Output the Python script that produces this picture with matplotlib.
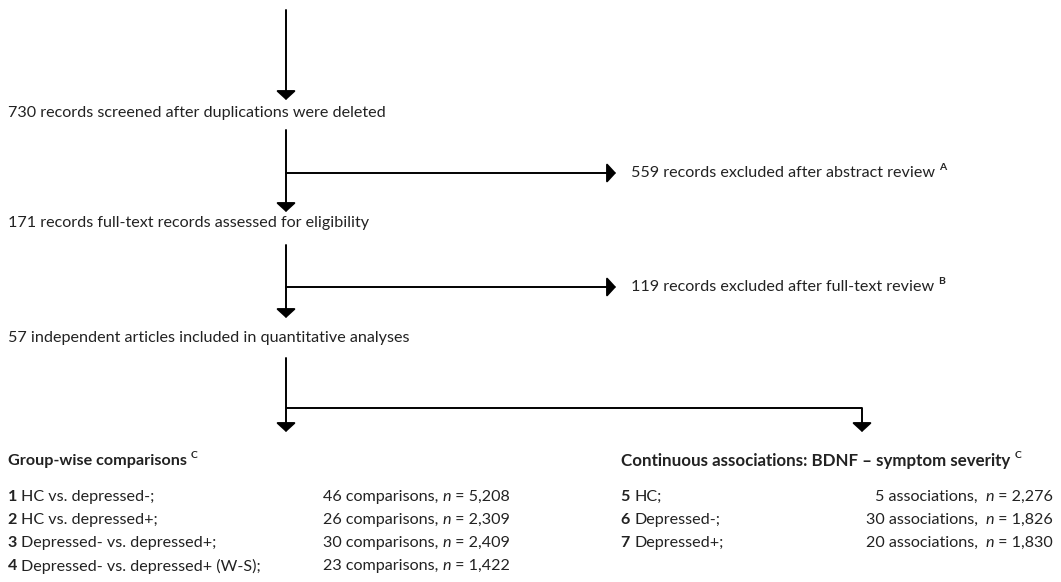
import matplotlib.pyplot as plt

plt.rcParams['font.family'] = ['Lato', 'DejaVu Sans']

# flow steps (text, superscript)
steps = [
    ("730 records screened after duplications were deleted", ""),
    ("171 records full-text records assessed for eligibility", ""),
    ("57 independent articles included in quantitative analyses", ""),
]
excluded = [
    ("559 records excluded after abstract review", "A"),
    ("119 records excluded after full-text review", "B"),
]

group_title = "Group-wise comparisons"
group_num = ["1", "2", "3", "4"]
group_lab = ["HC vs. depressed-;", "HC vs. depressed+;", "Depressed- vs. depressed+;",
             "Depressed- vs. depressed+ (W-S);"]
group_k = [46, 26, 30, 23]
group_n = ["5,208", "2,309", "2,409", "1,422"]

cont_title = "Continuous associations: BDNF \u2013 symptom severity"
cont_num = ["5", "6", "7"]
cont_lab = ["HC;", "Depressed-;", "Depressed+;"]
cont_k = [5, 30, 20]
cont_n = ["2,276", "1,826", "1,830"]

fig = plt.figure(figsize=(10.61, 5.82), dpi=100)
ax = fig.add_axes([0, 0, 1, 1])
ax.set_xlim(0, 1061)
ax.set_ylim(582, 0)
ax.axis('off')

col = '#222222'
fs = 11.6
sfs = 7.5
fig.canvas.draw()
rend = fig.canvas.get_renderer()


def runs(x, y, parts, ha='left'):
    # parts: list of (text, weight, style, size, dy)
    if ha == 'right':
        w = 0
        tmp = []
        for p in parts:
            t = ax.text(0, y, p[0], fontsize=p[3], fontweight=p[1], style=p[2])
            w += t.get_window_extent(rend).width
            tmp.append(t)
        for t in tmp:
            t.remove()
        x = x - w
    for txt, wt, st, sz, dy in parts:
        t = ax.text(x, y + dy, txt, fontsize=sz, fontweight=wt, style=st, color=col,
                    va='center', ha='left')
        x += t.get_window_extent(rend).width
    return x


def arrow(x0, y0, x1, y1):
    ax.annotate('', xy=(x1, y1), xytext=(x0, y0),
                arrowprops=dict(arrowstyle='-|>,head_length=0.55,head_width=0.6',
                                lw=1.4, color='black', shrinkA=0, shrinkB=0))


def line(xs, ys):
    ax.plot(xs, ys, color='black', lw=1.4, solid_capstyle='butt')


xm = 286
# top arrow
arrow(xm, 10, xm, 100)
step_y = [113, 223, 338]
for (s, sup), y in zip(steps, step_y):
    runs(8, y, [(s, 'normal', 'normal', fs, 0)])

# exclusion arrows
for (s, sup), ytop, yh, yarr in zip(excluded, [130, 245], [173, 287], [212, 318]):
    arrow(xm, ytop, xm, yarr)
    arrow(xm, yh, 616, yh)
    runs(631, yh, [(s + " ", 'normal', 'normal', fs, 0), (sup, 'bold', 'normal', sfs, -5)])

# split into two branches
arrow(xm, 358, xm, 432)
line([xm, 862], [408, 408])
arrow(862, 408, 862, 432)

runs(8, 461, [(group_title + " ", 'bold', 'normal', fs, 0), ("C", 'bold', 'normal', sfs, -5)])
runs(621, 461, [(cont_title + " ", 'bold', 'normal', fs + 0.6, 0), ("C", 'bold', 'normal', sfs, -5)])

row_y = [497, 520, 543, 566]
for num, lab, k, n, y in zip(group_num, group_lab, group_k, group_n, row_y):
    runs(8, y, [(num + " ", 'bold', 'normal', fs, 0), (lab, 'normal', 'normal', fs, 0)])
    runs(323, y, [("%d comparisons, " % k, 'normal', 'normal', fs, 0),
                  ("n", 'normal', 'italic', fs, 0),
                  (" = " + n, 'normal', 'normal', fs, 0)])

for num, lab, k, n, y in zip(cont_num, cont_lab, cont_k, cont_n, row_y):
    runs(621, y, [(num + " ", 'bold', 'normal', fs, 0), (lab, 'normal', 'normal', fs, 0)])
    runs(1053, y, [("%d associations,  " % k, 'normal', 'normal', fs, 0),
                   ("n", 'normal', 'italic', fs, 0),
                   (" = " + n, 'normal', 'normal', fs, 0)], ha='right')

fig.savefig('out.png', dpi=100)
